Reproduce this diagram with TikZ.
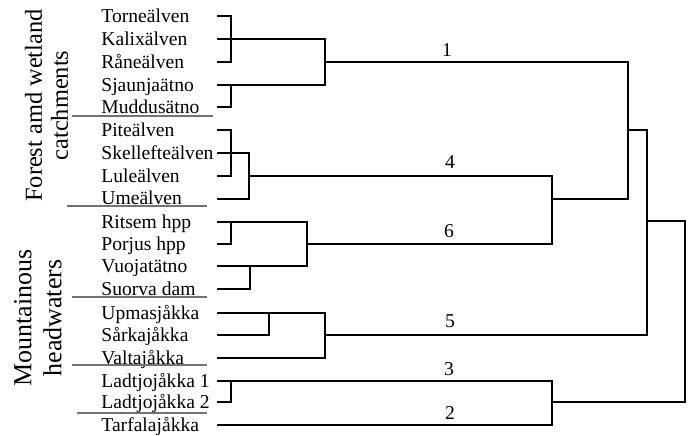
\documentclass[tikz,border=0pt]{standalone}
\usepackage{fontspec}
\setmainfont{Liberation Serif}
\usetikzlibrary{positioning}

\begin{document}
\begin{tikzpicture}[
    x=0.5pt,y=-0.5pt,
    leaf/.style={anchor=base west,inner sep=0pt,font=\fontsize{9.8}{11}\selectfont},
    group/.style={rotate=90,align=center,inner sep=0pt},
    num/.style={anchor=base,inner sep=0pt,font=\fontsize{9.8}{11}\selectfont},
    branch/.style={line width=1pt},
    sep/.style={black!55,line width=0.6pt}]
    \useasboundingbox (0,0) rectangle (691,435);

    \node[group,font=\fontsize{12.2}{13}\selectfont] (forest) at (46.6,105.5) {Forest amd wetland\\catchments};
    \node[group,font=\fontsize{13}{15}\selectfont] (mount) at (38,318) {Mountainous\\headwaters};

    \node[leaf] (torne) at (101,22) {Torneälven};
    \node[leaf] (kalix) at (101,45.5) {Kalixälven};
    \node[leaf] (rane) at (101,68.5) {Råneälven};
    \node[leaf] (sjaunja) at (101,91) {Sjaunjaätno};
    \node[leaf] (muddus) at (101,113) {Muddusätno};
    \node[leaf] (pite) at (101,136.5) {Piteälven};
    \node[leaf] (skell) at (101,159.5) {Skellefteälven};
    \node[leaf] (lule) at (101,182.5) {Luleälven};
    \node[leaf] (ume) at (101,204.5) {Umeälven};
    \node[leaf] (ritsem) at (101,228.5) {Ritsem hpp};
    \node[leaf] (porjus) at (101,250) {Porjus hpp};
    \node[leaf] (vuoja) at (101,272.5) {Vuojatätno};
    \node[leaf] (suorva) at (101,295) {Suorva dam};
    \node[leaf] (upmas) at (101,319.5) {Upmasjåkka};
    \node[leaf] (sarka) at (101,341.5) {Sårkajåkka};
    \node[leaf] (valta) at (101,364) {Valtajåkka};
    \node[leaf] (ladt1) at (101,387) {Ladtjojåkka 1};
    \node[leaf] (ladt2) at (101,408.5) {Ladtjojåkka 2};
    \node[leaf] (tarfala) at (101,431.5) {Tarfalajåkka};

    \coordinate (Tor) at (217,15.5);
    \coordinate (Kal) at (217,39);
    \coordinate (Ran) at (217,62);
    \coordinate (Sja) at (217,84.5);
    \coordinate (Mud) at (217,107);
    \coordinate (Pit) at (217,130);
    \coordinate (Ske) at (217,153);
    \coordinate (Lul) at (217,176);
    \coordinate (Ume) at (217,198.5);
    \coordinate (Rit) at (217,222);
    \coordinate (Por) at (217,243.5);
    \coordinate (Vuo) at (217,266);
    \coordinate (Suo) at (217,289);
    \coordinate (Upm) at (217,313);
    \coordinate (Sar) at (217,335);
    \coordinate (Val) at (217,358);
    \coordinate (La1) at (217,380.5);
    \coordinate (La2) at (217,402);
    \coordinate (Tar) at (217,425);

    \coordinate (a1) at (231,39);
    \coordinate (a2) at (231,84.5);
    \coordinate (a3) at (231,153);
    \coordinate (a4) at (231,222);
    \coordinate (a5) at (250,266);
    \coordinate (a6) at (269,313);
    \coordinate (a7) at (231,380.5);
    \coordinate (b1) at (325,39);
    \coordinate (b3) at (249,153);
    \coordinate (b4) at (307,222);
    \coordinate (b5) at (325,313);
    \coordinate (c1) at (325,62);
    \coordinate (c4) at (249,176);
    \coordinate (c5) at (325,335);
    \coordinate (c6) at (307,243.5);
    \coordinate (e3) at (552,380.5);
    \coordinate (e4) at (552,176);
    \coordinate (d3) at (552,402);
    \coordinate (d4) at (552,198.5);
    \coordinate (r1) at (628,62);
    \coordinate (s1) at (628,130);
    \coordinate (s2) at (647,130);
    \coordinate (t1) at (647,221);
    \coordinate (t2) at (685,221);

    \draw[branch] (Tor) -| (a1) |- (Ran);
    \draw[branch] (Kal) -- (b1) |- (Sja);
    \draw[branch] (Mud) -| (a2);
    \draw[branch] (Pit) -| (a3) |- (Lul);
    \draw[branch] (Ske) -- (b3) |- (Ume);
    \draw[branch] (Por) -| (a4);
    \draw[branch] (Rit) -- (b4) |- (Vuo);
    \draw[branch] (Suo) -| (a5);
    \draw[branch] (Sar) -| (a6);
    \draw[branch] (Upm) -- (b5) |- (Val);
    \draw[branch] (La2) -| (a7);
    \draw[branch] (La1) -- (e3) |- (Tar);
    \draw[branch] (c4) -- (e4) |- (c6);
    \draw[branch] (c1) -- (r1) |- (d4);
    \draw[branch] (s1) -- (s2) |- (c5);
    \draw[branch] (t1) -- (t2) |- (d3);

    \node[num] (n1) at (447,56) {1};
    \node[num] (n4) at (450,168) {4};
    \node[num] (n6) at (449,237) {6};
    \node[num] (n5) at (450,327) {5};
    \node[num] (n3) at (449,375) {3};
    \node[num] (n2) at (450,419) {2};

    \draw[sep] (72,116) -- (213,116);
    \draw[sep] (67,206) -- (207,206);
    \draw[sep] (72,297) -- (207,297);
    \draw[sep] (72,365) -- (207,365);
    \draw[sep] (77,413) -- (207,413);
\end{tikzpicture}
\end{document}
